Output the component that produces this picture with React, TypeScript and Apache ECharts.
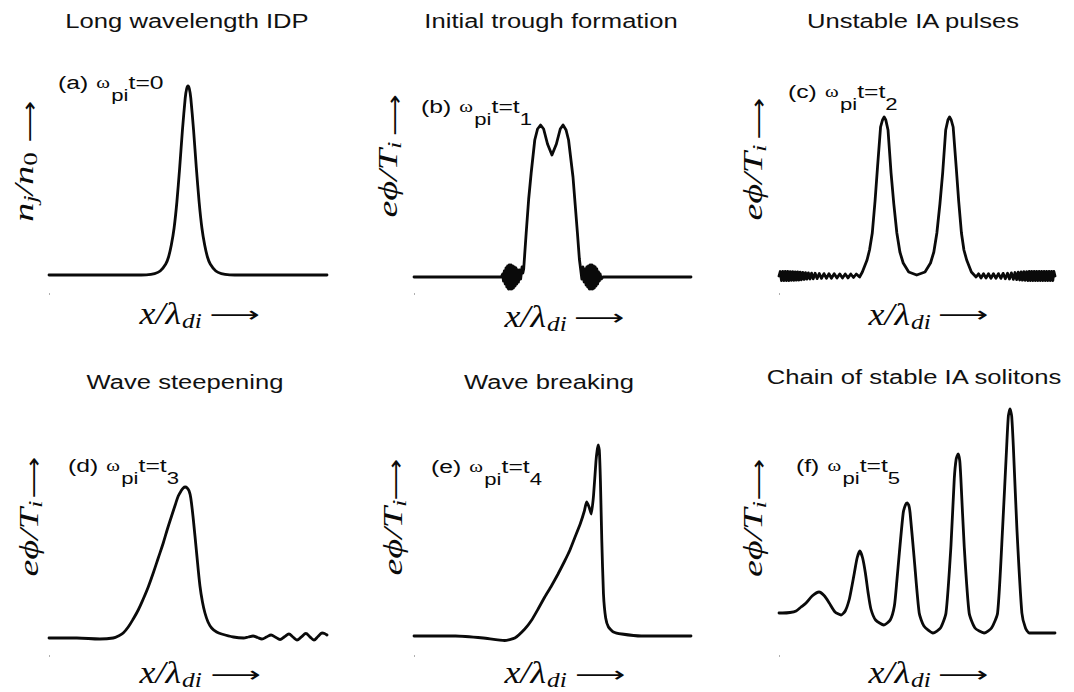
import React, { useEffect, useRef } from 'react';
import * as echarts from 'echarts';

const W = 1074;
const H = 692;

// ---- texts ----
const titles = [
  'Long wavelength IDP',
  'Initial trough formation',
  'Unstable IA pulses',
  'Wave steepening',
  'Wave breaking',
  'Chain of stable IA solitons',
];
const tags = ['(a)', '(b)', '(c)', '(d)', '(e)', '(f)'];
const timeMain = ['t=0', 't=t', 't=t', 't=t', 't=t', 't=t'];
const timeSub = ['', '1', '2', '3', '4', '5'];
const xLabelMain = 'x/λ';
const xLabelSub = 'di';
const arrowGlyph = '⟶';

// ---- data: [x (% of domain), amplitude] ----
const waveA: number[][] = [
  [0, 0], [30, 0], [35, 0.002], [38, 0.014], [40, 0.04], [42, 0.11], [43, 0.18], [44, 0.3],
  [45, 0.47], [46, 0.73], [47, 1.07], [48, 1.45], [49, 1.77], [49.5, 1.86], [50, 1.89], [50.5, 1.86],
  [51, 1.77], [52, 1.45], [53, 1.07], [54, 0.73], [55, 0.47], [56, 0.3], [57, 0.18], [58, 0.11],
  [60, 0.04], [62, 0.014], [65, 0.002], [70, 0], [100, 0],
];

const waveB: number[][] = [
  [0, 0], [31.5, 0],
  [32.0, 0.03], [32.3, -0.04], [32.6, 0.06], [32.9, -0.07], [33.2, 0.09], [33.5, -0.1],
  [33.8, 0.11], [34.1, -0.12], [34.4, 0.12], [34.7, -0.12], [35.0, 0.12], [35.3, -0.12],
  [35.6, 0.11], [35.9, -0.11], [36.2, 0.1], [36.5, -0.09], [36.8, 0.09], [37.1, -0.07],
  [37.4, 0.07], [37.7, -0.05], [38.1, 0.07], [38.5, -0.02], [39.0, 0.1], [39.3, 0.04], [39.6, 0.08],
  [40.5, 0.44], [41.4, 0.78], [42.3, 1.04], [43.6, 1.37], [44.6, 1.48], [45.7, 1.52], [46.8, 1.48],
  [48.2, 1.33], [49.8, 1.22], [51.4, 1.33], [52.8, 1.48], [53.8, 1.52], [54.9, 1.47], [55.8, 1.37],
  [57.4, 1.0], [58.2, 0.72], [59.0, 0.44], [59.7, 0.18], [60.2, 0.07],
  [60.6, -0.02], [61.0, 0.1], [61.4, -0.05], [61.8, 0.08], [62.1, -0.08], [62.4, 0.1], [62.7, -0.1],
  [63.0, 0.11], [63.3, -0.12], [63.6, 0.12], [63.9, -0.12], [64.2, 0.12], [64.5, -0.12], [64.8, 0.11],
  [65.1, -0.11], [65.4, 0.1], [65.7, -0.09], [66.0, 0.08], [66.3, -0.07], [66.6, 0.05], [66.9, -0.04],
  [67.2, 0.03], [67.6, -0.02], [68.2, 0], [100, 0],
];

const waveC: number[][] = [
  [0, 0], [0.45, 0.045], [0.9, -0.045], [1.35, 0.045], [1.8, -0.045], [2.25, 0.045], [2.7, -0.045],
  [3.15, 0.045], [3.6, -0.045], [4.05, 0.044], [4.5, -0.044], [4.95, 0.043], [5.4, -0.043],
  [5.85, 0.042], [6.3, -0.042], [6.75, 0.04], [7.2, -0.04], [7.65, 0.038], [8.1, -0.038],
  [8.6, 0.036], [9.1, -0.035], [9.6, 0.034], [10.1, -0.032], [10.65, 0.031], [11.2, -0.03],
  [11.8, 0.029], [12.4, -0.028], [13.1, 0.027], [13.8, -0.026], [14.6, 0.025], [15.4, -0.024],
  [16.3, 0.024], [17.2, -0.023], [18.1, 0.023], [19.0, -0.022], [20.0, 0.022], [21.0, -0.021],
  [22.0, 0.021], [23.0, -0.02], [24.0, 0.02], [25.0, -0.019], [26.0, 0.02], [27.0, -0.015],
  [28.0, 0.02], [29.2, -0.01],
  [30.2, 0.04], [31.9, 0.16], [32.8, 0.26], [33.8, 0.43], [34.8, 0.75], [35.7, 1.09], [36.8, 1.49],
  [37.5, 1.56], [38.1, 1.59], [38.7, 1.56], [39.5, 1.46], [40.6, 1.03], [41.6, 0.72], [42.7, 0.43],
  [43.8, 0.24], [45.0, 0.13], [47.0, 0.04], [49.9, 0.01], [52.9, 0.04], [54.9, 0.13], [56.1, 0.24],
  [57.2, 0.43], [58.3, 0.72], [59.3, 1.03], [60.4, 1.46], [61.2, 1.56], [61.8, 1.59], [62.4, 1.56],
  [63.1, 1.49], [64.2, 1.09], [65.1, 0.75], [66.1, 0.43], [67.0, 0.26], [68.0, 0.16], [69.7, 0.04],
  [71.4, -0.01], [72.3, 0.022], [73.2, -0.02], [74.1, 0.022], [75.0, -0.021], [75.9, 0.022],
  [76.8, -0.022], [77.7, 0.023], [78.6, -0.023], [79.5, 0.024], [80.4, -0.024], [81.2, 0.026],
  [82.0, -0.027], [82.8, 0.028], [83.5, -0.03], [84.2, 0.031], [84.9, -0.033], [85.5, 0.035],
  [86.1, -0.036], [86.65, 0.038], [87.2, -0.04], [87.7, 0.041], [88.2, -0.042], [88.7, 0.043],
  [89.2, -0.044], [89.7, 0.044], [90.2, -0.045], [90.65, 0.045], [91.1, -0.045], [91.55, 0.045],
  [92.0, -0.045], [92.45, 0.045], [92.9, -0.045], [93.35, 0.045], [93.8, -0.045], [94.25, 0.045],
  [94.7, -0.045], [95.15, 0.045], [95.6, -0.045], [96.05, 0.045], [96.5, -0.045], [96.95, 0.045],
  [97.4, -0.045], [97.85, 0.045], [98.3, -0.045], [98.75, 0.045], [99.2, -0.045], [99.6, 0.045],
  [100, 0],
];

const waveD: number[][] = [
  [0, 0], [10, 0], [18.3, -0.01], [23.1, 0], [25, 0.02], [26.7, 0.05], [28.5, 0.11], [30.3, 0.19],
  [32.1, 0.28], [33.9, 0.39], [35.7, 0.51], [37.5, 0.65], [39.3, 0.8], [41.1, 0.95], [42.6, 1.09],
  [44.1, 1.22], [45.4, 1.33], [46.5, 1.42], [47.5, 1.47], [48.3, 1.5], [49.0, 1.51], [49.7, 1.5],
  [50.4, 1.47], [51.0, 1.4], [51.9, 1.19], [53.1, 0.85], [54.3, 0.52], [55.2, 0.36], [56.1, 0.25],
  [57.2, 0.16], [58.5, 0.1], [60.3, 0.06], [62.1, 0.04], [66.3, 0.01], [70, 0.0], [71.7, 0.01],
  [73.4, 0.02], [75.0, 0.005], [76.6, -0.01], [78.25, 0.01], [79.9, 0.03], [81.5, 0.008],
  [83.1, -0.015], [84.7, 0.012], [86.3, 0.04], [87.75, 0.01], [89.2, -0.02], [90.8, 0.012],
  [92.4, 0.045], [93.85, 0.012], [95.3, -0.02], [96.75, 0.015], [98.2, 0.05], [99.1, 0.045],
  [100, 0.03],
];

const waveE: number[][] = [
  [0, 0], [15, 0], [25, -0.02], [32.7, -0.045], [36.4, -0.02], [40.0, 0.07], [42.5, 0.16],
  [44.8, 0.27], [47.2, 0.39], [49.6, 0.5], [52, 0.62], [54.4, 0.75], [56.3, 0.86], [58, 0.98],
  [60, 1.12], [61.5, 1.25], [62.3, 1.34], [63.2, 1.29], [64.0, 1.22], [64.8, 1.4], [65.7, 1.75],
  [66.1, 1.85], [66.5, 1.91], [66.9, 1.86], [67.3, 1.55], [67.8, 0.95], [68.4, 0.42], [69.2, 0.18],
  [70.2, 0.09], [72, 0.04], [75, 0.02], [82, 0], [100, 0],
];

const waveF: number[][] = [
  [0, 0.2], [1.3, 0.2], [4, 0.205], [6.2, 0.22], [8, 0.26], [9.8, 0.3], [12, 0.37], [14.5, 0.41],
  [16.5, 0.37], [18.2, 0.3], [20.3, 0.21], [22.5, 0.18], [24.0, 0.22], [25.5, 0.34], [26.5, 0.48],
  [27.3, 0.6], [28.3, 0.75], [29.3, 0.82], [30.3, 0.75], [31.3, 0.6], [32.3, 0.4], [33.3, 0.24],
  [35.0, 0.13], [38.0, 0.08], [40.3, 0.13], [41.8, 0.27], [42.7, 0.52], [43.6, 0.8], [45.0, 1.2],
  [45.8, 1.28], [46.4, 1.3], [47.0, 1.28], [47.5, 1.2], [49.0, 0.74], [50.8, 0.2], [52.5, 0.07],
  [55.8, 0.0], [58.5, 0.05], [60.5, 0.2], [62.3, 0.87], [63.5, 1.54], [64.2, 1.74], [64.9, 1.79],
  [65.5, 1.72], [65.9, 1.54], [67.1, 0.87], [68.9, 0.2], [71, 0.05], [74.3, 0.0], [77, 0.05],
  [79.2, 0.2], [81.0, 1.04], [82.5, 1.87], [83.1, 2.17], [83.7, 2.24], [84.3, 2.17], [84.9, 1.87],
  [86.2, 1.04], [88.0, 0.2], [89.3, 0.05], [90.7, 0.0], [100, 0.0],
];

const waves = [waveA, waveB, waveC, waveD, waveE, waveF];

// ---- layout (pixels) ----
// xj: junction between "x/λ" and "di"; xb: baseline of x label
const layout = [
  { left: 49, width: 278, base: 275, row: 0, smooth: 0.2, title: [187, 21], tag: [58, 73], yt: [27, 187], ya: [29, 121.5], xj: 181, xb: 324, xa: [235, 315] },
  { left: 414, width: 277, base: 277, row: 0, smooth: 0, title: [551, 21], tag: [421, 97], yt: [391, 179.5], ya: [394, 115], xj: 546, xb: 327, xa: [599.5, 318] },
  { left: 779, width: 276, base: 276, row: 0, smooth: 0, title: [913, 21], tag: [788, 82], yt: [756, 182.5], ya: [758.5, 118.5], xj: 910, xb: 325, xa: [963.5, 315] },
  { left: 49, width: 278, base: 638, row: 1, smooth: 0.35, title: [185, 382], tag: [68, 456], yt: [32, 538.5], ya: [33, 477.5], xj: 181, xb: 683, xa: [236, 675] },
  { left: 414, width: 277, base: 636, row: 1, smooth: 0.15, title: [549, 382], tag: [431, 457], yt: [396, 537.5], ya: [395, 479.5], xj: 546, xb: 683, xa: [600.5, 675] },
  { left: 779, width: 276, base: 633, row: 1, smooth: 0.2, title: [914, 377], tag: [796, 456], yt: [756, 539], ya: [758.5, 479.5], xj: 910, xb: 683, xa: [963.5, 675] },
];

const sans = '"Liberation Sans", Arial, Helvetica, sans-serif';
const serif = '"Liberation Serif", "Times New Roman", "DejaVu Serif", serif';
const arrowFont = '"DejaVu Sans", sans-serif';
const INK = '#0a0a0a';

function buildOption() {
  const grid: any[] = [];
  const xAxis: any[] = [];
  const yAxis: any[] = [];
  const series: any[] = [];
  const graphic: any[] = [];

  layout.forEach((p, i) => {
    const top = p.row === 0 ? p.base - 200 : p.base - 240;
    const height = p.row === 0 ? 210 : 250;
    grid.push({ left: p.left, top, width: p.width, height, containLabel: false });
    xAxis.push({ type: 'value', gridIndex: i, min: 0, max: 100, show: false });
    yAxis.push({ type: 'value', gridIndex: i, min: -0.1, max: p.row === 0 ? 2.0 : 2.4, show: false });
    series.push({
      type: 'line',
      xAxisIndex: i,
      yAxisIndex: i,
      data: waves[i],
      symbol: 'none',
      showSymbol: false,
      smooth: p.smooth || false,
      clip: false,
      silent: true,
      lineStyle: { color: INK, width: 2.8, cap: 'round', join: 'round' },
    });

    // title
    graphic.push({
      type: 'text',
      x: p.title[0],
      y: p.title[1],
      scaleX: 1.28,
      silent: true,
      style: {
        text: titles[i],
        font: `20px ${sans}`,
        fill: '#111',
        textAlign: 'center',
        textVerticalAlign: 'middle',
      },
    });

    // tag "(a) ω_pi t=0"
    const tagText = `{n|${tags[i]} }{w|ω}{s|pi}{n|${timeMain[i]}}` + (timeSub[i] ? `{s|${timeSub[i]}}` : '');
    graphic.push({
      type: 'text',
      x: p.tag[0],
      y: p.tag[1],
      scaleX: 1.3,
      silent: true,
      style: {
        text: tagText,
        textAlign: 'left',
        textVerticalAlign: 'top',
        fill: INK,
        rich: {
          n: { font: `19px ${sans}`, padding: [0, 0, 12, 0], fill: INK },
          w: { font: `16px ${serif}`, padding: [0, 1, 13, 1], fill: INK },
          s: { font: `17px ${sans}`, padding: [12, 0, 0, 0], fill: INK },
        },
      },
    });

    // y label text (rotated)
    const yText = i === 0 ? '{m|n}{s|j}{m|/n}{s0|0}' : '{m|eϕ/T}{s|i}';
    graphic.push({
      type: 'text',
      x: p.yt[0],
      y: p.yt[1],
      rotation: Math.PI / 2,
      scaleX: 1.12,
      scaleY: 0.8,
      silent: true,
      style: {
        text: yText,
        textAlign: 'center',
        textVerticalAlign: 'middle',
        fill: INK,
        rich: {
          m: { font: `italic 34px ${serif}`, padding: [0, 0, 8, 0], fill: INK },
          s: { font: `italic 24px ${serif}`, padding: [8, 0, 0, 0], fill: INK },
          s0: { font: `24px ${serif}`, padding: [8, 0, 0, 0], fill: INK },
        },
      },
    });
    // y label arrow
    graphic.push({
      type: 'text',
      x: p.ya[0],
      y: p.ya[1],
      rotation: Math.PI / 2,
      scaleX: 1.32,
      silent: true,
      style: {
        text: arrowGlyph,
        font: `22px ${arrowFont}`,
        textAlign: 'center',
        textVerticalAlign: 'middle',
        fill: INK,
      },
    });

    // x label: "x/λ" + subscript "di"
    graphic.push({
      type: 'text',
      x: p.xj,
      y: p.xb - 10.8,
      scaleX: 1.12,
      silent: true,
      style: {
        text: xLabelMain,
        font: `italic 32px ${serif}`,
        textAlign: 'right',
        textVerticalAlign: 'middle',
        fill: INK,
      },
    });
    graphic.push({
      type: 'text',
      x: p.xj + 1,
      y: p.xb + 4 - 7.4,
      scaleX: 1.15,
      silent: true,
      style: {
        text: xLabelSub,
        font: `italic 22px ${serif}`,
        textAlign: 'left',
        textVerticalAlign: 'middle',
        fill: INK,
      },
    });
    // x label arrow
    graphic.push({
      type: 'text',
      x: p.xa[0],
      y: p.xa[1],
      scaleX: 1.6,
      silent: true,
      style: {
        text: arrowGlyph,
        font: `22px ${arrowFont}`,
        textAlign: 'center',
        textVerticalAlign: 'middle',
        fill: INK,
      },
    });

    // small corner tick
    graphic.push({
      type: 'rect',
      silent: true,
      shape: { x: p.left, y: p.row === 0 ? 293 : 655, width: 1, height: 2 },
      style: { fill: '#b0b0b0' },
    });
  });

  return {
    animation: false,
    backgroundColor: '#ffffff',
    grid,
    xAxis,
    yAxis,
    series,
    graphic,
  };
}

export default function App() {
  const ref = useRef<HTMLDivElement>(null);
  useEffect(() => {
    if (!ref.current) return;
    const chart = echarts.init(ref.current, null, { renderer: 'svg', width: W, height: H });
    chart.setOption(buildOption() as any);
    return () => chart.dispose();
  }, []);
  return (
    <div
      ref={ref}
      style={{ position: 'fixed', left: 0, top: 0, width: W, height: H, background: '#fff' }}
    />
  );
}
